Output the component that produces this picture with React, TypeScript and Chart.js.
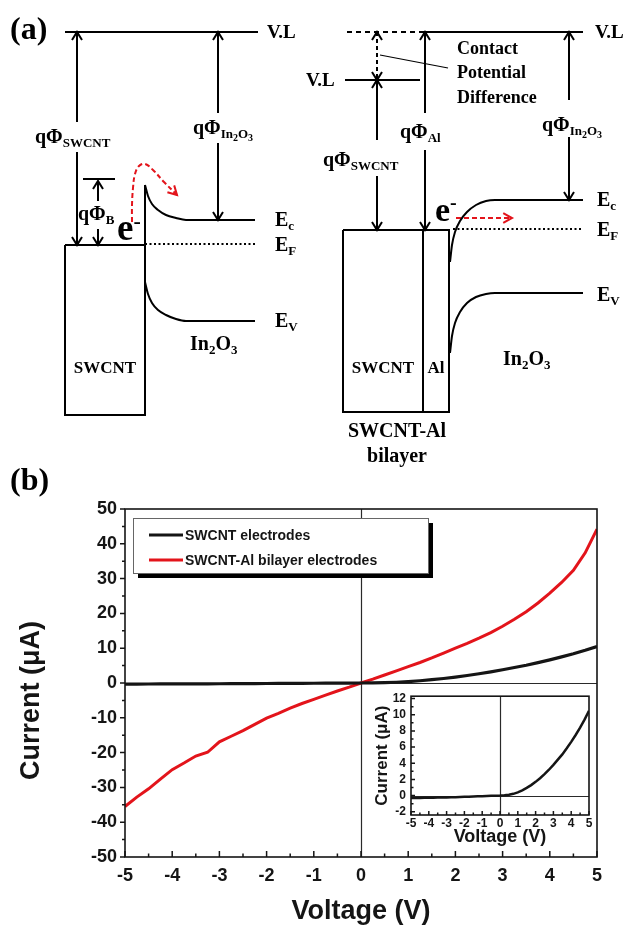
import { useEffect, useRef } from 'react';
import { Chart, registerables } from 'chart.js';

Chart.register(...registerables);

const SANS = '"Liberation Sans", Arial, Helvetica, sans-serif';
const SERIF = '"Liberation Serif", "Times New Roman", serif';
const INK = '#151515';
const RED = '#e3141b';

// ---------- (b) I–V data ----------
const voltage = [-5, -4.75, -4.5, -4.25, -4, -3.75, -3.5, -3.25, -3, -2.75, -2.5, -2.25, -2, -1.75, -1.5, -1.25, -1, -0.75, -0.5, -0.25, 0, 0.25, 0.5, 0.75, 1, 1.25, 1.5, 1.75, 2, 2.25, 2.5, 2.75, 3, 3.25, 3.5, 3.75, 4, 4.25, 4.5, 4.75, 5];
const swcntCurrent = [-0.30, -0.30, -0.29, -0.28, -0.27, -0.26, -0.25, -0.23, -0.22, -0.20, -0.19, -0.17, -0.15, -0.13, -0.11, -0.09, -0.07, -0.05, -0.03, -0.01, 0, 0.03, 0.10, 0.22, 0.40, 0.65, 0.95, 1.30, 1.70, 2.15, 2.65, 3.20, 3.80, 4.45, 5.10, 5.85, 6.65, 7.50, 8.40, 9.40, 10.50];
const bilayerCurrent = [-35.5, -32.8, -30.4, -27.6, -24.9, -23.0, -21.0, -19.9, -16.9, -15.3, -13.7, -11.9, -10.1, -8.7, -7.2, -5.9, -4.7, -3.5, -2.3, -1.2, 0, 1.1, 2.3, 3.5, 4.7, 5.9, 7.2, 8.6, 10.0, 11.4, 12.9, 14.5, 16.3, 18.3, 20.5, 23.0, 25.8, 28.9, 32.4, 37.4, 44.2];
const seriesLabels = ['SWCNT electrodes', 'SWCNT-Al bilayer electrodes'];

const mainXTicks = [-5, -4, -3, -2, -1, 0, 1, 2, 3, 4, 5];
const mainYTicks = [-50, -40, -30, -20, -10, 0, 10, 20, 30, 40, 50];
const insetXTicks = [-5, -4, -3, -2, -1, 0, 1, 2, 3, 4, 5];
const insetYTicks = [-2, 0, 2, 4, 6, 8, 10, 12];

// ---------- (a) band diagram (schematic, diagram units) ----------
const leftVacuumLevel = [[65, 32], [258, 32]];
const leftSwcntBox = [[65, 245], [145, 245], [145, 415], [65, 415], [65, 245]];
const leftBarrierEdge = [[145, 185], [145, 245]];
const leftEc = [[145, 185], [148, 196], [152, 204], [158, 210], [166, 215], [176, 218], [186, 220], [255, 220]];
const leftEv = [[145, 282], [148, 294], [152, 303], [158, 310], [166, 315], [176, 319], [186, 321], [255, 321]];
const leftEf = [[145, 244], [255, 244]];
const leftBarrierTop = [[83, 179], [115, 179]];
const rightVacuumDashed = [[347, 32], [423, 32]];
const rightVacuumLevel = [[423, 32], [583, 32]];
const rightSwcntVacuum = [[345, 80], [420, 80]];
const rightBox = [[343, 230], [449, 230], [449, 412], [343, 412], [343, 230]];
const rightDivider = [[423, 230], [423, 412]];
const rightEc = [[450, 262], [452, 245], [455, 232], [460, 221], [467, 212], [476, 205], [486, 201], [495, 200], [583, 200]];
const rightEv = [[450, 353], [452, 336], [455, 323], [460, 312], [467, 303], [476, 297], [486, 294], [495, 293], [583, 293]];
const rightEf = [[453, 229], [583, 229]];
const cpdLeader = [[380, 55], [448, 68]];
const redPathLeft = [[132, 222], [132, 205], [133, 188], [135, 174], [139, 166], [145, 164], [153, 170], [164, 182], [177, 195]];
const redPathRight = [[456, 218], [512, 218]];

type Line = { pts: number[][]; w?: number; dash?: number[]; color?: string; smooth?: 'mono' | 'bez' };
const diagramLines: Line[] = [
  { pts: leftVacuumLevel },
  { pts: leftSwcntBox },
  { pts: leftBarrierEdge },
  { pts: leftEc, smooth: 'mono' },
  { pts: leftEv, smooth: 'mono' },
  { pts: leftEf, dash: [2, 2.5] },
  { pts: leftBarrierTop },
  { pts: rightVacuumDashed, dash: [5, 4] },
  { pts: rightVacuumLevel },
  { pts: rightSwcntVacuum },
  { pts: rightBox },
  { pts: rightDivider },
  { pts: rightEc, smooth: 'mono' },
  { pts: rightEv, smooth: 'mono' },
  { pts: rightEf, dash: [2, 2.5] },
  { pts: cpdLeader, w: 1.2 },
  { pts: redPathLeft, dash: [5, 3], color: RED, smooth: 'bez' },
  { pts: redPathRight, dash: [5, 3], color: RED },
];

const diagramArrows = [
  { x: 77, y1: 32, y2: 245, gap: [122, 152] },
  { x: 98, y1: 181, y2: 245, gap: [201, 229] },
  { x: 218, y1: 32, y2: 220, gap: [113, 143] },
  { x: 377, y1: 32, y2: 80, dashed: true },
  { x: 377, y1: 80, y2: 230, gap: [140, 176] },
  { x: 425, y1: 32, y2: 230, gap: [113, 150] },
  { x: 569, y1: 32, y2: 200, gap: [100, 137] },
];

type Seg = [string, number, number?];
type Label = { x: number; y: number; segs: Seg[]; align?: 'left' | 'center'; weight?: string };
const qPhiIn2O3: Seg[] = [['qΦ', 20], ['In', 13, 4], ['2', 10, 7], ['O', 13, 4], ['3', 10, 7]];
const diagramLabels: Label[] = [
  { x: 10, y: 39, segs: [['(a)', 32]] },
  { x: 267, y: 38, segs: [['V.L', 19]] },
  { x: 595, y: 38, segs: [['V.L', 19]] },
  { x: 306, y: 86, segs: [['V.L', 19]] },
  { x: 35, y: 143, segs: [['qΦ', 20], ['SWCNT', 13, 4]] },
  { x: 78, y: 220, segs: [['qΦ', 20], ['B', 13, 4]] },
  { x: 193, y: 134, segs: qPhiIn2O3 },
  { x: 275, y: 226, segs: [['E', 20], ['c', 13, 4]] },
  { x: 275, y: 251, segs: [['E', 20], ['F', 13, 4]] },
  { x: 275, y: 327, segs: [['E', 20], ['V', 13, 4]] },
  { x: 105, y: 373, align: 'center', segs: [['SWCNT', 17]] },
  { x: 190, y: 350, segs: [['In', 20], ['2', 13, 4], ['O', 20], ['3', 13, 4]] },
  { x: 117, y: 240, segs: [['e', 37], ['-', 22, -12]] },
  { x: 323, y: 166, segs: [['qΦ', 20], ['SWCNT', 13, 4]] },
  { x: 400, y: 138, segs: [['qΦ', 20], ['Al', 13, 4]] },
  { x: 542, y: 131, segs: qPhiIn2O3 },
  { x: 597, y: 206, segs: [['E', 20], ['c', 13, 4]] },
  { x: 597, y: 236, segs: [['E', 20], ['F', 13, 4]] },
  { x: 597, y: 301, segs: [['E', 20], ['V', 13, 4]] },
  { x: 383, y: 373, align: 'center', segs: [['SWCNT', 17]] },
  { x: 436, y: 373, align: 'center', segs: [['Al', 17]] },
  { x: 503, y: 365, segs: [['In', 20], ['2', 13, 4], ['O', 20], ['3', 13, 4]] },
  { x: 397, y: 437, align: 'center', segs: [['SWCNT-Al', 20]] },
  { x: 397, y: 462, align: 'center', segs: [['bilayer', 20]] },
  { x: 457, y: 54, segs: [['Contact', 18]] },
  { x: 457, y: 78, segs: [['Potential', 18]] },
  { x: 457, y: 103, segs: [['Difference', 18]] },
  { x: 435, y: 221, segs: [['e', 34], ['-', 20, -12]] },
];

function drawRich(ctx: CanvasRenderingContext2D, l: Label, x: number, y: number) {
  const weight = l.weight ?? 'bold';
  let total = 0;
  const widths = l.segs.map(([t, s]) => {
    ctx.font = `${weight} ${s}px ${SERIF}`;
    const w = ctx.measureText(t).width;
    total += w;
    return w;
  });
  let cx = l.align === 'center' ? x - total / 2 : x;
  ctx.fillStyle = '#000';
  ctx.textAlign = 'left';
  ctx.textBaseline = 'alphabetic';
  l.segs.forEach(([t, s, dy], i) => {
    ctx.font = `${weight} ${s}px ${SERIF}`;
    ctx.fillText(t, cx, y + (dy ?? 0));
    cx += widths[i];
  });
}

const diagramDecor = {
  id: 'diagramDecor',
  afterDatasetsDraw(chart: any) {
    const { ctx, scales } = chart;
    const X = (v: number) => scales.x.getPixelForValue(v);
    const Y = (v: number) => scales.y.getPixelForValue(v);
    ctx.save();
    ctx.strokeStyle = '#000';
    ctx.lineWidth = 2;
    diagramArrows.forEach((ar: any) => {
      const px = X(ar.x), top = Y(ar.y1), bot = Y(ar.y2);
      ctx.setLineDash(ar.dashed ? [4, 3] : []);
      ctx.beginPath();
      if (ar.gap) {
        ctx.moveTo(px, top); ctx.lineTo(px, Y(ar.gap[0]));
        ctx.moveTo(px, Y(ar.gap[1])); ctx.lineTo(px, bot);
      } else {
        ctx.moveTo(px, top); ctx.lineTo(px, bot);
      }
      ctx.stroke();
      ctx.setLineDash([]);
      ctx.beginPath();
      ctx.moveTo(px - 5, top + 8); ctx.lineTo(px, top); ctx.lineTo(px + 5, top + 8);
      ctx.moveTo(px - 5, bot - 8); ctx.lineTo(px, bot); ctx.lineTo(px + 5, bot - 8);
      ctx.stroke();
    });
    [redPathLeft, redPathRight].forEach((path) => {
      const [x1, y1] = path[path.length - 2];
      const [x2, y2] = path[path.length - 1];
      const ang = Math.atan2(Y(y2) - Y(y1), X(x2) - X(x1));
      const tx = X(x2), ty = Y(y2);
      ctx.strokeStyle = RED;
      ctx.lineWidth = 2;
      ctx.beginPath();
      ctx.moveTo(tx - 10 * Math.cos(ang - 0.5), ty - 10 * Math.sin(ang - 0.5));
      ctx.lineTo(tx, ty);
      ctx.lineTo(tx - 10 * Math.cos(ang + 0.5), ty - 10 * Math.sin(ang + 0.5));
      ctx.stroke();
    });
    diagramLabels.forEach((l) => drawRich(ctx, l, X(l.x), Y(l.y)));
    ctx.restore();
  },
};

function tickMarks(chart: any, xTicks: number[], yTicks: number[], xLen: number[], yLen: number[], yInward: boolean) {
  const { ctx, chartArea: a, scales } = chart;
  const mids = (t: number[]) => t.slice(1).map((v, i) => (v + t[i]) / 2);
  ctx.save();
  ctx.strokeStyle = INK;
  ctx.lineWidth = 1.5;
  ctx.beginPath();
  const addX = (v: number, len: number) => {
    const p = scales.x.getPixelForValue(v);
    ctx.moveTo(p, a.bottom); ctx.lineTo(p, a.bottom - len);
  };
  const addY = (v: number, len: number) => {
    const p = scales.y.getPixelForValue(v);
    ctx.moveTo(a.left, p); ctx.lineTo(yInward ? a.left + len : a.left - len, p);
  };
  xTicks.forEach((v) => addX(v, xLen[0]));
  mids(xTicks).forEach((v) => addX(v, xLen[1]));
  yTicks.forEach((v) => addY(v, yLen[0]));
  mids(yTicks).forEach((v) => addY(v, yLen[1]));
  ctx.stroke();
  ctx.lineWidth = 1.6;
  ctx.strokeRect(a.left, a.top, a.right - a.left, a.bottom - a.top);
  ctx.restore();
}

function zeroLines(chart: any) {
  const { ctx, chartArea: a, scales } = chart;
  const px = Math.round(scales.x.getPixelForValue(0)) + 0.5;
  const py = Math.round(scales.y.getPixelForValue(0)) + 0.5;
  ctx.save();
  ctx.strokeStyle = '#2a2a2a';
  ctx.lineWidth = 1.2;
  ctx.beginPath();
  ctx.moveTo(px, a.top); ctx.lineTo(px, a.bottom);
  ctx.moveTo(a.left, py); ctx.lineTo(a.right, py);
  ctx.stroke();
  ctx.restore();
}

const mainDecor = {
  id: 'mainDecor',
  beforeDatasetsDraw(chart: any) {
    zeroLines(chart);
  },
  afterDatasetsDraw(chart: any) {
    const { ctx, chartArea: a, scales } = chart;
    tickMarks(chart, mainXTicks, mainYTicks, [6, 3.5], [5, 3], false);
    // legend
    const lx = a.left + 8, ly = a.top + 9, lw = 295, lh = 55;
    ctx.save();
    ctx.fillStyle = '#000';
    ctx.fillRect(lx + 5, ly + 5, lw, lh);
    ctx.fillStyle = '#fff';
    ctx.fillRect(lx, ly, lw, lh);
    ctx.strokeStyle = '#666';
    ctx.lineWidth = 1;
    ctx.strokeRect(lx + 0.5, ly + 0.5, lw, lh);
    chart.data.datasets.forEach((ds: any, i: number) => {
      const yy = ly + 17 + i * 25;
      ctx.strokeStyle = ds.borderColor;
      ctx.lineWidth = 3;
      ctx.beginPath();
      ctx.moveTo(lx + 16, yy); ctx.lineTo(lx + 50, yy);
      ctx.stroke();
      ctx.fillStyle = INK;
      ctx.font = `bold 14px ${SANS}`;
      ctx.textAlign = 'left';
      ctx.textBaseline = 'middle';
      ctx.fillText(ds.label, lx + 52, yy + 1);
    });
    // y title
    ctx.translate(32, scales.y.getPixelForValue(-5));
    ctx.rotate(-Math.PI / 2);
    ctx.font = `bold 27px ${SANS}`;
    ctx.textAlign = 'center';
    ctx.textBaseline = 'middle';
    ctx.fillStyle = INK;
    ctx.fillText('Current (μA)', 0, 0);
    ctx.restore();
    // panel label
    ctx.save();
    ctx.font = `bold 32px ${SERIF}`;
    ctx.fillStyle = '#000';
    ctx.textAlign = 'left';
    ctx.textBaseline = 'alphabetic';
    ctx.fillText('(b)', 10, 30);
    ctx.restore();
  },
};

const insetDecor = {
  id: 'insetDecor',
  beforeDatasetsDraw(chart: any) {
    zeroLines(chart);
  },
  afterDatasetsDraw(chart: any) {
    tickMarks(chart, insetXTicks, insetYTicks, [4, 2.5], [4, 2.5], true);
  },
};

const tickFont = (size: number) => ({ family: SANS, size, weight: 'bold' as const });

export default function App() {
  const diagRef = useRef<HTMLCanvasElement>(null);
  const mainRef = useRef<HTMLCanvasElement>(null);
  const insetRef = useRef<HTMLCanvasElement>(null);

  useEffect(() => {
    document.body.style.margin = '0';
    const charts: Chart[] = [];

    charts.push(
      new Chart(diagRef.current!, {
        type: 'scatter',
        data: {
          datasets: diagramLines.map((l) => ({
            data: l.pts.map(([x, y]) => ({ x, y })),
            showLine: true,
            borderColor: l.color ?? '#000',
            backgroundColor: l.color ?? '#000',
            borderWidth: l.w ?? 2,
            borderDash: l.dash ?? [],
            pointRadius: 0,
            tension: l.smooth === 'bez' ? 0.4 : 0,
            cubicInterpolationMode: l.smooth === 'mono' ? 'monotone' : 'default',
            clip: false,
          })) as any,
        },
        options: {
          animation: false,
          responsive: false,
          devicePixelRatio: 1,
          layout: { padding: 0 },
          plugins: { legend: { display: false }, tooltip: { enabled: false } },
          scales: {
            x: { type: 'linear', min: 0, max: 630, display: false },
            y: { type: 'linear', min: 0, max: 470, reverse: true, display: false },
          },
        } as any,
        plugins: [diagramDecor],
      })
    );

    charts.push(
      new Chart(mainRef.current!, {
        type: 'scatter',
        data: {
          datasets: [
            { label: seriesLabels[0], data: voltage.map((v, i) => ({ x: v, y: swcntCurrent[i] })), showLine: true, borderColor: INK, borderWidth: 3.2, pointRadius: 0 },
            { label: seriesLabels[1], data: voltage.map((v, i) => ({ x: v, y: bilayerCurrent[i] })), showLine: true, borderColor: RED, borderWidth: 3, pointRadius: 0 },
          ],
        },
        options: {
          animation: false,
          responsive: false,
          devicePixelRatio: 1,
          layout: { padding: { top: 49, right: 33, left: 0, bottom: 0 } },
          plugins: { legend: { display: false }, tooltip: { enabled: false } },
          scales: {
            x: {
              type: 'linear', min: -5, max: 5,
              afterBuildTicks: (s: any) => { s.ticks = mainXTicks.map((value) => ({ value })); },
              afterFit: (s: any) => { s.height = 71; },
              grid: { display: false, drawTicks: false },
              border: { display: false },
              ticks: { autoSkip: false, maxRotation: 0, padding: 8, color: INK, font: tickFont(18), callback: (v: any) => String(v) },
              title: { display: true, text: 'Voltage (V)', color: INK, font: { family: SANS, size: 27, weight: 'bold' }, padding: 0 },
            },
            y: {
              type: 'linear', min: -50, max: 50,
              afterBuildTicks: (s: any) => { s.ticks = mainYTicks.map((value) => ({ value })); },
              afterFit: (s: any) => { s.width = 125; },
              grid: { display: false, drawTicks: false },
              border: { display: false },
              ticks: { autoSkip: false, padding: 8, color: INK, font: tickFont(18), callback: (v: any) => String(v) },
            },
          },
        } as any,
        plugins: [mainDecor],
      })
    );

    charts.push(
      new Chart(insetRef.current!, {
        type: 'scatter',
        data: {
          datasets: [
            { label: seriesLabels[0], data: voltage.map((v, i) => ({ x: v, y: swcntCurrent[i] })), showLine: true, borderColor: INK, borderWidth: 2.5, pointRadius: 0 },
          ],
        },
        options: {
          animation: false,
          responsive: false,
          devicePixelRatio: 1,
          layout: { padding: { top: 10, right: 9, left: 0, bottom: 0 } },
          plugins: { legend: { display: false }, tooltip: { enabled: false } },
          scales: {
            x: {
              type: 'linear', min: -5, max: 5,
              afterBuildTicks: (s: any) => { s.ticks = insetXTicks.map((value) => ({ value })); },
              afterFit: (s: any) => { s.height = 33; },
              grid: { display: false, drawTicks: false },
              border: { display: false },
              ticks: { autoSkip: false, maxRotation: 0, padding: 1, color: INK, font: tickFont(12), callback: (v: any) => String(v) },
              title: { display: true, text: 'Voltage (V)', color: INK, font: { family: SANS, size: 18, weight: 'bold' }, padding: 0 },
            },
            y: {
              type: 'linear', min: -2.4, max: 12.3,
              afterBuildTicks: (s: any) => { s.ticks = insetYTicks.map((value) => ({ value })); },
              afterFit: (s: any) => { s.width = 41; },
              grid: { display: false, drawTicks: false },
              border: { display: false },
              ticks: { autoSkip: false, padding: 5, color: INK, font: tickFont(12), callback: (v: any) => String(v) },
              title: { display: true, text: 'Current (μA)', color: INK, font: { family: SANS, size: 17, weight: 'bold' }, padding: { top: 2, bottom: 0 } },
            },
          },
        } as any,
        plugins: [insetDecor],
      })
    );

    return () => charts.forEach((c) => c.destroy());
  }, []);

  return (
    <div style={{ position: 'relative', width: 630, height: 928, background: '#fff', overflow: 'hidden' }}>
      <canvas ref={diagRef} width={630} height={470} style={{ position: 'absolute', left: 0, top: 0, width: 630, height: 470 }} />
      <canvas ref={mainRef} width={630} height={468} style={{ position: 'absolute', left: 0, top: 460, width: 630, height: 468 }} />
      <canvas ref={insetRef} width={228} height={164} style={{ position: 'absolute', left: 370, top: 684, width: 228, height: 164 }} />
    </div>
  );
}
